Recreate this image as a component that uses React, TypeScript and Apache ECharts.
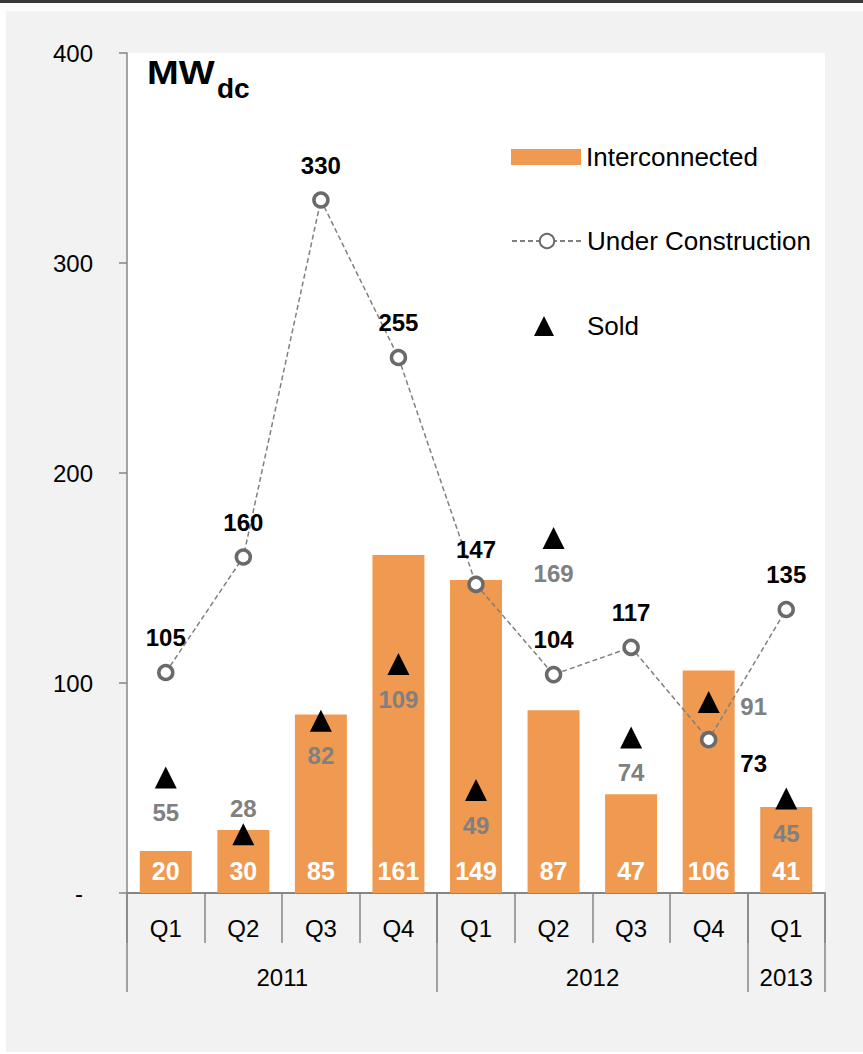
import React, { useEffect, useRef } from 'react';
import * as echarts from 'echarts';

const quarters = ['Q1', 'Q2', 'Q3', 'Q4', 'Q1', 'Q2', 'Q3', 'Q4', 'Q1'];
const years = ['2011', '2012', '2013'];
const yearSpans = [4, 4, 1];
const interconnected = [20, 30, 85, 161, 149, 87, 47, 106, 41];
const underConstruction = [105, 160, 330, 255, 147, 104, 117, 73, 135];
const sold = [55, 28, 82, 109, 49, 169, 74, 91, 45];
const yMin = 0;
const yMax = 400;
const yStep = 100;

const FONT = '"Liberation Sans", Arial, sans-serif';
const ORANGE = '#EF9A50';
const GRAY = '#808080';

// build year axis helpers
const yearStarts: number[] = [];
const yearLabelText: string[] = quarters.map(() => '');
{
  let s = 0;
  years.forEach((y, k) => {
    const n = yearSpans[k];
    yearStarts.push(s);
    if (n % 2 === 0) {
      yearLabelText[s + n / 2 - 1] = `{s|${y}}`;
    } else {
      yearLabelText[s + (n - 1) / 2] = `{c|${y}}`;
    }
    s += n;
  });
}
const yearAxisData = quarters.map((q, i) => `slot${i}`);

const ucOffsets: Record<number, number[]> = { 7: [45, 24] };
const soldLabelPos: Record<number, any> = {
  1: { position: 'top', distance: 3 },
  7: { position: 'inside', offset: [45, 5] },
};

export default function App() {
  const ref = useRef<HTMLDivElement>(null);
  useEffect(() => {
    if (!ref.current) return;
    const chart = echarts.init(ref.current, null, { renderer: 'svg' });
    const legendText = { fontSize: 26, color: '#000', fontFamily: FONT, lineHeight: 24 };
    const option: any = {
      animation: false,
      backgroundColor: '#ffffff',
      textStyle: { fontFamily: FONT },
      graphic: [
        { type: 'rect', z: -10, shape: { x: 0, y: 0, width: 863, height: 3 }, style: { fill: '#3a3a3a' } },
        { type: 'rect', z: -10, shape: { x: 6, y: 11, width: 857, height: 1041 }, style: { fill: '#f2f2f2' } },
        {
          type: 'text', z: 10, x: 147, y: 72, scaleX: 1.12,
          style: { text: 'MW', font: `bold 34px ${FONT}`, fill: '#000', verticalAlign: 'middle', align: 'left' },
        },
        {
          type: 'text', z: 10, x: 217, y: 88,
          style: { text: 'dc', font: `bold 28px ${FONT}`, fill: '#000', verticalAlign: 'middle', align: 'left' },
        },
      ],
      grid: {
        left: 127, right: 38, top: 53, bottom: 161,
        show: true, backgroundColor: '#ffffff', borderWidth: 0,
      },
      legend: [
        {
          data: [{ name: 'Interconnected', icon: 'rect' }], left: 511, top: 144, padding: 0,
          itemWidth: 70, itemHeight: 16, selectedMode: false, textStyle: legendText,
        },
        {
          data: ['Under Construction'], left: 511, top: 228, padding: 0,
          itemWidth: 70, itemHeight: 18, selectedMode: false, textStyle: legendText,
        },
        {
          data: ['Sold'], left: 534, top: 313, padding: 0,
          itemWidth: 20, itemHeight: 20, selectedMode: false,
          textStyle: { ...legendText, padding: [0, 0, 0, 28] },
        },
      ],
      xAxis: [
        {
          type: 'category', data: quarters, position: 'bottom',
          axisLine: { show: true, lineStyle: { color: '#868686', width: 2 } },
          axisTick: { show: true, length: 50, interval: 0, lineStyle: { color: '#868686', width: 1.5 } },
          axisLabel: { interval: 0, margin: 23, fontSize: 24, color: '#000', fontFamily: FONT },
          splitLine: { show: false },
        },
        {
          type: 'category', data: yearAxisData, position: 'bottom', offset: 0,
          axisLine: { show: false },
          axisTick: {
            show: true, length: 99,
            interval: (index: number) => yearStarts.includes(index),
            lineStyle: { color: '#868686', width: 1.5 },
          },
          axisLabel: {
            interval: (index: number) => yearLabelText[index] !== '',
            formatter: (_v: string, index: number) => yearLabelText[index],
            margin: 72, fontSize: 24, color: '#000', fontFamily: FONT,
            rich: {
              s: { fontSize: 24, color: '#000', fontFamily: FONT, padding: [0, 0, 0, 78] },
              c: { fontSize: 24, color: '#000', fontFamily: FONT },
            },
          },
          splitLine: { show: false },
        },
      ],
      yAxis: {
        type: 'value', min: yMin, max: yMax, interval: yStep,
        splitLine: { show: false },
        axisLine: { show: true, lineStyle: { color: '#868686', width: 1.5 } },
        axisTick: { show: true, length: 8, lineStyle: { color: '#868686', width: 1.5 } },
        axisLabel: {
          margin: 34, fontSize: 24, color: '#000', fontFamily: FONT,
          formatter: (v: number) => (v === 0 ? '{d|-}' : String(v)),
          rich: { d: { fontSize: 24, color: '#000', fontFamily: FONT, padding: [0, 10, 0, 0] } },
        },
      },
      series: [
        {
          name: 'Interconnected', type: 'bar', data: interconnected, barWidth: 52,
          xAxisIndex: 0, yAxisIndex: 0, z: 2,
          itemStyle: { color: ORANGE },
          label: {
            show: true, position: 'insideBottom', distance: 10, color: '#fff',
            fontSize: 25, fontWeight: 'bold', fontFamily: FONT,
          },
        },
        {
          name: 'Under Construction', type: 'line', xAxisIndex: 0, yAxisIndex: 0, z: 3,
          data: underConstruction.map((v, i) =>
            ucOffsets[i] ? { value: v, label: { position: 'inside', offset: ucOffsets[i] } } : v
          ),
          symbol: 'circle', symbolSize: 14,
          lineStyle: { color: GRAY, width: 1.5, type: [5, 3] },
          itemStyle: { color: '#ffffff', borderColor: '#6a6a6a', borderWidth: 3.5 },
          label: {
            show: true, position: 'top', distance: 14, color: '#000',
            fontSize: 24, fontWeight: 'bold', fontFamily: FONT,
          },
        },
        {
          name: 'Sold', type: 'scatter', xAxisIndex: 0, yAxisIndex: 0, z: 4,
          data: sold.map((v, i) => (soldLabelPos[i] ? { value: v, label: soldLabelPos[i] } : v)),
          symbol: 'triangle', symbolSize: 22, symbolKeepAspect: true,
          itemStyle: { color: '#000', opacity: 1 },
          label: {
            show: true, position: 'bottom', distance: 12, color: GRAY,
            fontSize: 24, fontWeight: 'bold', fontFamily: FONT,
          },
        },
      ],
    };
    chart.setOption(option);
    return () => chart.dispose();
  }, []);
  return (
    <div
      ref={ref}
      style={{ position: 'fixed', left: 0, top: 0, width: 863, height: 1054 }}
    />
  );
}
